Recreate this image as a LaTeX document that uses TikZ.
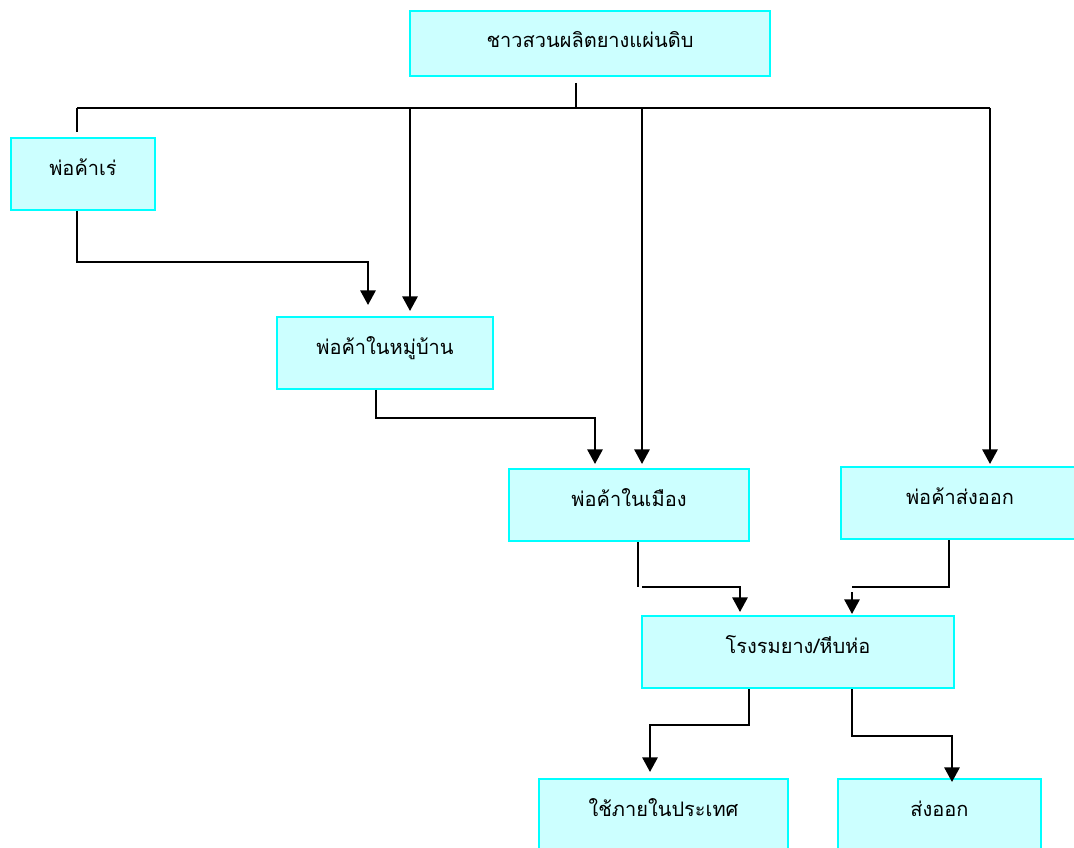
\documentclass[tikz,border=0pt]{standalone}
\usepackage{fontspec}
\newfontfamily\thaifont[Script=Thai]{Loma}
\usetikzlibrary{arrows.meta,calc}
\definecolor{boxfill}{HTML}{CCFFFF}
\definecolor{boxline}{HTML}{00FFFF}
\begin{document}
\begin{tikzpicture}[x=0.75pt,y=-0.75pt,
  box/.style={draw=boxline,fill=boxfill,line width=1.5pt,rectangle,inner sep=0pt,
    font=\thaifont\fontsize{15}{17}\selectfont,text height=9pt,text depth=7pt},
  ln/.style={line width=1.6pt,draw=black},
  arr/.style={ln,-{Triangle[length=11pt,width=11.5pt]}}]
\useasboundingbox (0,0) rectangle (1074,848);
% boxes
\node[box,minimum width=270pt,minimum height=48.75pt,text height=11.5pt,text depth=5.5pt] (farm) at (590,43.5) {ชาวสวนผลิตยางแผ่นดิบ};
\node[box,minimum width=108pt,minimum height=54pt] (ret) at (83,174) {พ่อค้าเร่};
\node[box,minimum width=162pt,minimum height=54pt] (vil) at (385,353) {พ่อค้าในหมู่บ้าน};
\node[box,minimum width=180pt,minimum height=54pt] (city) at (629,505) {พ่อค้าในเมือง};
\node[box,minimum width=178.5pt,minimum height=54pt] (expm) at (960,503) {พ่อค้าส่งออก};
\node[box,minimum width=234pt,minimum height=54pt] (mill) at (798,652) {โรงรมยาง/หีบห่อ};
\node[box,minimum width=186.75pt,minimum height=54pt] (dom) at (663.5,815) {ใช้ภายในประเทศ};
\node[box,minimum width=152.25pt,minimum height=54pt] (exp) at (939.5,815) {ส่งออก};
% junction coordinates
\coordinate (b0) at (576,108);
\coordinate (bL) at (77,108);
\coordinate (bR) at (990,108);
\coordinate (bV) at (410,108);
\coordinate (bC) at (642,108);
\coordinate (r1) at (77,262);
\coordinate (r2) at (368,262);
\coordinate (v1) at (376,418);
\coordinate (v2) at (595,418);
\coordinate (c1) at (638,587);
\coordinate (c2) at (642,587);
\coordinate (c3) at (740,587);
\coordinate (e1) at (949,587);
\coordinate (e2) at (852,587);
\coordinate (e3) at (852,592);
\coordinate (m1) at (749,725);
\coordinate (m2) at (650,725);
\coordinate (m3) at (852,736);
\coordinate (m4) at (952,736);
% connectors
\draw[ln,shorten <=4.5pt] (farm.south -| b0) -- (b0);
\draw[ln] (bL) -- (bR);
\draw[ln,shorten >=3.75pt] (bL) -- (bL |- ret.north);
\draw[arr,shorten >=3.75pt] (bV) -- (bV |- vil.north);
\draw[arr,shorten >=8.25pt] (ret.south -| r1) -- (r1) -- (r2) -- (r2 |- vil.north);
\draw[arr,shorten >=3pt] (vil.south -| v1) -- (v1) -- (v2) -- (v2 |- city.north);
\draw[arr,shorten >=3pt] (bC) -- (bC |- city.north);
\draw[arr,shorten >=1.5pt] (bR) -- (bR |- expm.north);
\draw[ln] (city.south -| c1) -- (c1);
\draw[arr,shorten >=2.25pt] (c2) -- (c3) -- (c3 |- mill.north);
\draw[ln] (expm.south -| e1) -- (e1) -- (e2);
\draw[arr,shorten >=0.75pt] (e3) -- (e3 |- mill.north);
\draw[arr,shorten >=4.5pt] (mill.south -| m1) -- (m1) -- (m2) -- (m2 |- dom.north);
\draw[arr,shorten >=-3pt] (mill.south -| m3) -- (m3) -- (m4) -- (m4 |- exp.north);
\end{tikzpicture}
\end{document}
